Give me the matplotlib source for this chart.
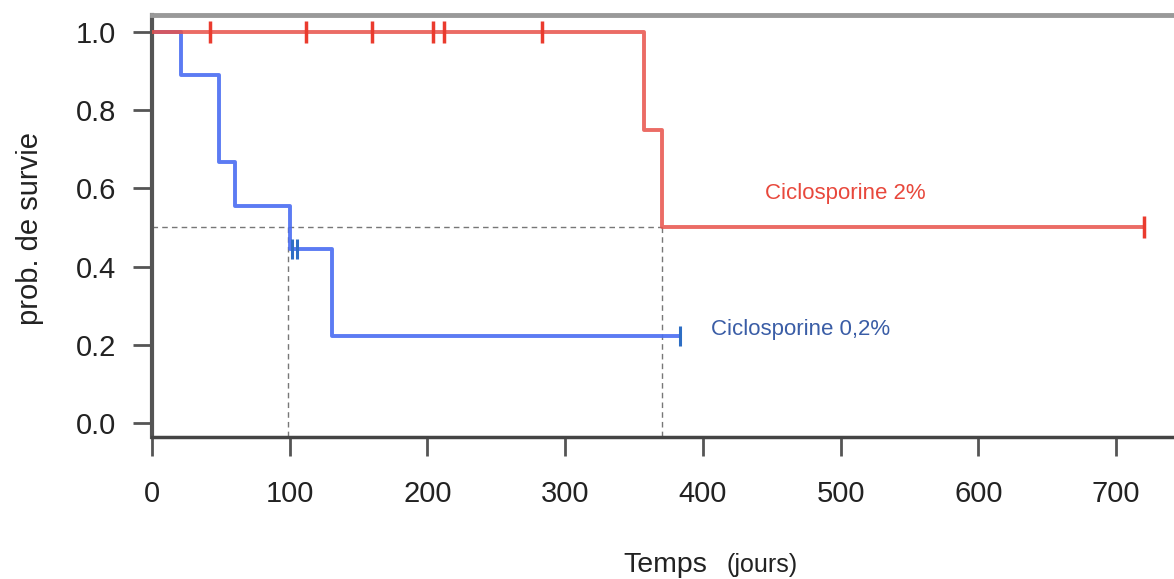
import numpy as np
import matplotlib
matplotlib.use("Agg")
import matplotlib.pyplot as plt

plt.rcParams['font.family'] = ['Liberation Sans', 'DejaVu Sans']

# Kaplan-Meier steps
# Ciclosporine 0,2%
blue_t = [0, 21, 49, 60, 100, 131, 383]
blue_s = [1.0, 0.889, 0.667, 0.556, 0.444, 0.222, 0.222]
blue_cens_t = [102, 105, 383]
blue_cens_s = [0.444, 0.444, 0.222]

# Ciclosporine 2%
red_t = [0, 357, 370, 720]
red_s = [1.0, 0.75, 0.5, 0.5]
red_cens_t = [42, 112, 160, 204, 212, 283, 720]
red_cens_s = [1.0, 1.0, 1.0, 1.0, 1.0, 1.0, 0.5]

# medians
median_blue = 99
median_red = 370

xticks = [0, 100, 200, 300, 400, 500, 600, 700]
yticks = [0.0, 0.2, 0.4, 0.6, 0.8, 1.0]

W, H = 1174, 579
fig = plt.figure(figsize=(W / 100, H / 100), dpi=100)
ax = fig.add_axes([152 / W, 1 - 437 / H, 1 - 152 / W, (437 - 15) / H])

ax.set_xlim(0, 742)
ax.set_ylim(-0.036, 1.0435)

blue = '#4a6df2'
red = '#e8524a'

# median guides
ax.plot([0, median_red], [0.5, 0.5], color='#777777', lw=1.0, ls=(0, (4, 3)), zorder=1)
ax.plot([median_blue, median_blue], [0.5, -0.036], color='#777777', lw=1.0, ls=(0, (4, 3)), zorder=1)
ax.plot([median_red, median_red], [0.5, -0.036], color='#777777', lw=1.0, ls=(0, (4, 3)), zorder=1)

ax.step(blue_t, blue_s, where='post', color=blue, lw=2.8, alpha=0.9, zorder=2)
ax.step(red_t, red_s, where='post', color=red, lw=2.8, alpha=0.85, zorder=3)

ax.plot(blue_cens_t, blue_cens_s, ls='none', marker='|', ms=14, mew=2.2, color='#2e6ec4', zorder=4)
ax.plot(red_cens_t, red_cens_s, ls='none', marker='|', ms=16, mew=2.5, color='#ea3b2e', zorder=4)

ax.text(445, 0.588, 'Ciclosporine 2%', color='#e8483c', fontsize=16, va='center', ha='left')
ax.text(406, 0.238, 'Ciclosporine 0,2%', color='#3a5da6', fontsize=16, va='center', ha='left')

ax.set_xticks(xticks)
ax.set_yticks(yticks)
ax.set_yticklabels(['%.1f' % v for v in yticks])
ax.tick_params(axis='both', direction='out', length=14, width=2, color='#555555',
               labelsize=21, labelcolor='#222222')
ax.tick_params(axis='x', pad=17)
ax.tick_params(axis='y', pad=12)

ax.spines['right'].set_visible(False)
ax.spines['top'].set_color('#999999')
ax.spines['top'].set_linewidth(3.5)
ax.spines['left'].set_color('#555555')
ax.spines['left'].set_linewidth(3)
ax.spines['bottom'].set_color('#444444')
ax.spines['bottom'].set_linewidth(2.5)

fig.text(30 / W, 1 - 228 / H, 'prob. de survie', rotation=90, fontsize=21,
         color='#222222', ha='center', va='center')
fig.text(623 / W, 1 - 572 / H, 'Temps', fontsize=20.5, color='#222222', ha='left', va='baseline')
fig.text(727 / W, 1 - 572 / H, '(jours)', fontsize=18, color='#222222', ha='left', va='baseline')

fig.savefig('out.png', dpi=100)
